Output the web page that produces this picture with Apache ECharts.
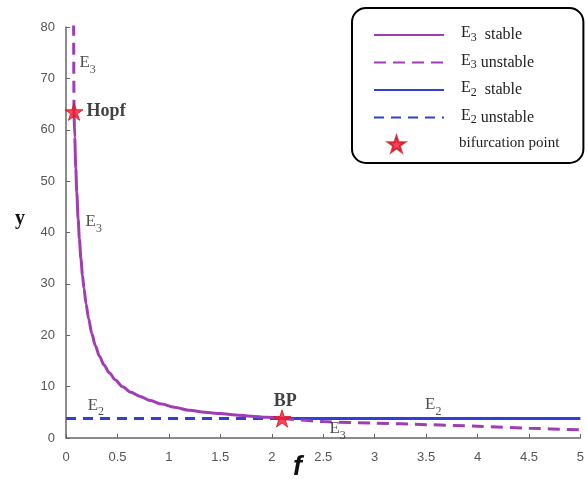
<!DOCTYPE html>
<html>
<head>
<meta charset="utf-8">
<script src="https://cdn.jsdelivr.net/npm/echarts@6/dist/echarts.min.js"></script>
<style>
  html, body { margin: 0; padding: 0; background: #fff; }
  #chart { width: 587px; height: 481px; }
</style>
</head>
<body>
<div id="chart"></div>
<script>
// axis ticks
const xTicks = [0, 0.5, 1, 1.5, 2, 2.5, 3, 3.5, 4, 4.5, 5];
const yTicks = [0, 10, 20, 30, 40, 50, 60, 70, 80];

// bifurcation points [f, y]
const hopfPoint = [0.078, 63.5];
const bpPoint = [2.1, 3.8];

// E3 branch
const e3Stable = [
  [0.078, 63.5], [0.085, 58.5], [0.095, 52.5], [0.105, 47.8], [0.118, 42.6],
  [0.13, 38.8], [0.145, 34.9], [0.16, 31.7], [0.175, 29.1], [0.195, 26.1],
  [0.22, 23.2], [0.25, 20.4], [0.285, 18.0], [0.325, 15.9], [0.37, 14.2],
  [0.42, 12.7], [0.48, 11.3], [0.55, 10.0], [0.63, 8.9], [0.72, 8.1],
  [0.82, 7.3], [0.93, 6.6], [1.05, 6.0], [1.2, 5.4], [1.35, 5.0],
  [1.5, 4.75], [1.65, 4.5], [1.8, 4.25], [1.95, 4.02], [2.1, 3.8]
];
const e3UnstableTop = [[0.078, 63.5], [0.076, 70], [0.074, 81]];
const e3UnstableRight = [
  [2.1, 3.8], [2.5, 3.2], [3, 2.9], [3.5, 2.6], [4, 2.3], [4.5, 1.9], [5, 1.6]
];

// E2 branch
const e2Unstable = [[0, 3.8], [2.1, 3.8]];
const e2Stable = [[2.1, 3.8], [5, 3.8]];

// text labels on the plot: [f, y, text]
const annotations = [
  [0.21, 72.5, '{e|E}{s|3}'],
  [0.39, 63.5, '{b|Hopf}'],
  [0.27, 41.5, '{e|E}{s|3}'],
  [0.29, 5.8, '{e|E}{s|2}'],
  [2.13, 7.2, '{b|BP}'],
  [3.57, 5.9, '{e|E}{s|2}'],
  [2.64, 1.2, '{e|E}{s|3}']
];

const legendNames = ['E3 stable', 'E3 unstable', 'E2 stable', 'E2 unstable', 'bifurcation point'];
const legendText = {
  'E3 stable': '{e|E}{s|3}{t|  stable}',
  'E3 unstable': '{e|E}{s|3}{t| unstable}',
  'E2 stable': '{e|E}{s|2}{t|  stable}',
  'E2 unstable': '{e|E}{s|2}{t| unstable}',
  'bifurcation point': '{p|bifurcation point}'
};

const purple = '#a03cb4';
const blue = '#2f3fd8';
const red = '#f2182a';
const serif = '"Liberation Serif", "DejaVu Serif", serif';
const starPath = 'path://M50,0 L61.2,34.5 L97.6,34.5 L68.2,55.9 L79.4,90.5 L50,69.1 L20.6,90.5 L31.8,55.9 L2.4,34.5 L38.8,34.5 Z';

const subRich = {
  e: { fontFamily: serif, fontSize: 17, color: '#222', padding: [0, 0, 6, 0] },
  s: { fontFamily: serif, fontSize: 12, color: '#222', padding: [8, 0, 0, 0] },
  b: { fontFamily: serif, fontSize: 18, fontWeight: 'bold', color: '#111' }
};

const myChart = echarts.init(document.getElementById('chart'));

const option = {
  animation: false,
  grid: { left: 66, right: 1, top: 27, bottom: 43, containLabel: false },
  xAxis: {
    type: 'value',
    min: xTicks[0],
    max: xTicks[xTicks.length - 1],
    interval: xTicks[1] - xTicks[0],
    axisLine: { show: true, lineStyle: { color: '#666', width: 1.5 } },
    axisTick: { show: true, inside: true, length: 4, lineStyle: { color: '#666' } },
    axisLabel: { color: '#555', fontSize: 13, fontFamily: '"Liberation Sans", Arial', margin: 13 },
    splitLine: { show: false }
  },
  yAxis: {
    type: 'value',
    min: yTicks[0],
    max: yTicks[yTicks.length - 1],
    interval: yTicks[1] - yTicks[0],
    axisLine: { show: true, lineStyle: { color: '#666', width: 1.5 } },
    axisTick: { show: true, inside: true, length: 4, lineStyle: { color: '#666' } },
    axisLabel: { color: '#555', fontSize: 13, fontFamily: '"Liberation Sans", Arial', margin: 11 },
    splitLine: { show: false }
  },
  legend: [
    {
      // boxed legend: line samples and texts (symbols hidden)
      orient: 'vertical',
      left: 352,
      top: 8,
      padding: [17, 24, 12, 21],
      itemWidth: 70,
      itemHeight: 14,
      itemGap: 9,
      borderColor: '#000',
      borderWidth: 2,
      borderRadius: 14,
      backgroundColor: '#fff',
      itemStyle: { opacity: 0 },
      data: legendNames,
      formatter: function (name) { return legendText[name]; },
      textStyle: {
        rich: {
          e: { fontFamily: serif, fontSize: 16, color: '#222', padding: [0, 0, 4, 12] },
          s: { fontFamily: serif, fontSize: 12, color: '#222', padding: [5, 0, 0, 0] },
          t: { fontFamily: serif, fontSize: 16, color: '#222' },
          p: { fontFamily: serif, fontSize: 15, color: '#222', padding: [0, 0, 0, 10] }
        }
      }
    },
    {
      // the star sample, placed left of centre as in the original
      left: 387,
      top: 135,
      padding: 0,
      itemWidth: 17,
      itemHeight: 17,
      z: 10,
      data: ['bifurcation point'],
      formatter: function () { return ''; }
    }
  ],
  series: [
    {
      name: 'E2 unstable', type: 'line', data: e2Unstable, symbol: 'none',
      lineStyle: { color: blue, width: 3, type: [10, 7] }, itemStyle: { color: blue }
    },
    {
      name: 'E2 stable', type: 'line', data: e2Stable, symbol: 'none',
      lineStyle: { color: blue, width: 3 }, itemStyle: { color: blue }
    },
    {
      name: 'E3 stable', type: 'line', data: e3Stable, symbol: 'none',
      smooth: 0.3, smoothMonotone: 'x',
      lineStyle: { color: purple, width: 3 }, itemStyle: { color: purple }
    },
    {
      name: 'E3 unstable', type: 'line', data: e3UnstableTop, symbol: 'none',
      lineStyle: { color: purple, width: 3, type: [12, 7] }, itemStyle: { color: purple }
    },
    {
      name: 'E3 unstable', type: 'line', data: e3UnstableRight, symbol: 'none',
      smooth: 0.3,
      lineStyle: { color: purple, width: 3, type: [12, 7] }, itemStyle: { color: purple }
    },
    {
      name: 'bifurcation point', type: 'scatter', data: [hopfPoint, bpPoint],
      symbol: starPath, symbolSize: 18, symbolKeepAspect: true, z: 5,
      itemStyle: { color: red, borderColor: '#d0101e', borderWidth: 1 }
    },
    {
      name: 'labels', type: 'scatter', symbolSize: 0, silent: true, z: 6,
      data: annotations.map(a => ({ value: [a[0], a[1]], label: { formatter: a[2] } })),
      label: { show: true, position: 'inside', rich: subRich }
    }
  ],
  graphic: [
    {
      type: 'text', left: 15, top: 209,
      style: { text: 'y', font: 'bold 20px "Liberation Serif"', fill: '#111' }
    },
    {
      type: 'text', left: 293, top: 454,
      style: { text: 'f', font: 'italic bold 27px "Liberation Sans"', fill: '#111' }
    }
  ]
};

myChart.setOption(option);
</script>
</body>
</html>
